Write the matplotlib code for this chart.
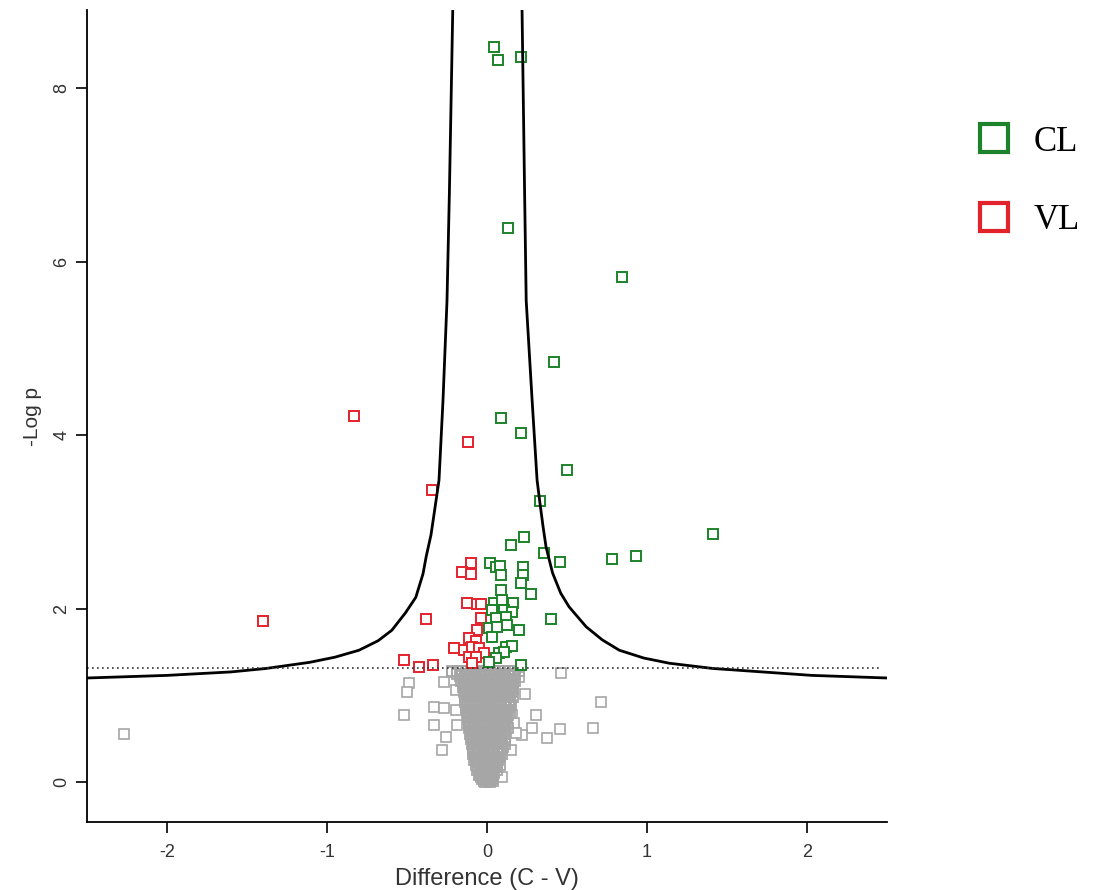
import matplotlib
matplotlib.use("Agg")
import matplotlib.pyplot as plt
from matplotlib.lines import Line2D

# --- significant CL (green) ---
cl_x = [0.044, 0.069, 0.213, 0.131, 0.845, 0.42, 0.088, 0.213, 0.50, 0.332,
        0.232, 0.150, 0.357, 0.457, 0.783, 0.933, 1.415, 0.019, 0.056, 0.081,
        0.225, 0.225, 0.088, 0.213, 0.276, 0.088, 0.044, 0.094, 0.163, 0.031,
        0.106, 0.157, 0.056, 0.119, 0.40, 0.013, 0.063, 0.125, 0.20, 0.031,
        0.119, 0.157, 0.075, 0.106, 0.056, 0.213, 0.013]
cl_y = [8.47, 8.32, 8.36, 6.39, 5.82, 4.84, 4.20, 4.02, 3.60, 3.24,
        2.82, 2.73, 2.64, 2.54, 2.57, 2.61, 2.86, 2.52, 2.48, 2.49,
        2.48, 2.39, 2.39, 2.29, 2.17, 2.21, 2.07, 2.10, 2.06, 1.98,
        1.98, 1.96, 1.89, 1.90, 1.88, 1.78, 1.79, 1.81, 1.75, 1.67,
        1.56, 1.57, 1.49, 1.50, 1.43, 1.35, 1.38]

# --- significant VL (red) ---
vl_x = [-0.833, -0.119, -0.344, -1.403, -0.382, -0.10, -0.157, -0.10, -0.125, -0.063,
        -0.038, -0.038, -0.063, -0.113, -0.069, -0.207, -0.144, -0.094, -0.05, -0.019,
        -0.113, -0.069, -0.094, -0.52, -0.426, -0.338]
vl_y = [4.22, 3.92, 3.37, 1.86, 1.88, 2.52, 2.42, 2.40, 2.07, 2.05,
        2.05, 1.89, 1.75, 1.66, 1.63, 1.54, 1.52, 1.56, 1.54, 1.49,
        1.44, 1.44, 1.37, 1.41, 1.33, 1.35]

# --- non significant (gray): dense core, read row by row ---
core_row_y = [1.28, 1.25, 1.22, 1.19, 1.16, 1.13, 1.10, 1.07, 1.04, 1.01, 0.98, 0.95,
              0.92, 0.89, 0.86, 0.83, 0.80, 0.77, 0.74, 0.71, 0.68, 0.65, 0.62, 0.59,
              0.56, 0.53, 0.50, 0.47, 0.44, 0.41, 0.38, 0.35, 0.32, 0.29, 0.26, 0.23,
              0.20, 0.17, 0.14, 0.11, 0.08, 0.055, 0.03, 0.015, 0.00]
core_row_x = [
    [-0.22, -0.19, -0.16, -0.13, -0.10, -0.07, -0.04, -0.01, 0.02, 0.05, 0.08, 0.11, 0.14, 0.17, 0.20],
    [-0.185, -0.155, -0.125, -0.095, -0.065, -0.035, -0.005, 0.025, 0.055, 0.085, 0.115, 0.145, 0.175],
    [-0.17, -0.14, -0.11, -0.08, -0.05, -0.02, 0.01, 0.04, 0.07, 0.10, 0.13, 0.16],
    [-0.145, -0.115, -0.085, -0.055, -0.025, 0.005, 0.035, 0.065, 0.095, 0.125, 0.155],
    [-0.16, -0.125, -0.095, -0.065, -0.035, -0.005, 0.025, 0.055, 0.085, 0.115, 0.145, 0.175],
    [-0.14, -0.11, -0.08, -0.05, -0.02, 0.01, 0.04, 0.07, 0.10, 0.13, 0.16],
    [-0.15, -0.12, -0.09, -0.06, -0.03, 0.00, 0.03, 0.06, 0.09, 0.12, 0.15],
    [-0.135, -0.105, -0.075, -0.045, -0.015, 0.015, 0.045, 0.075, 0.105, 0.135, 0.165],
    [-0.145, -0.115, -0.085, -0.055, -0.025, 0.005, 0.035, 0.065, 0.095, 0.125, 0.155],
    [-0.13, -0.10, -0.07, -0.04, -0.01, 0.02, 0.05, 0.08, 0.11, 0.14],
    [-0.14, -0.11, -0.08, -0.05, -0.02, 0.01, 0.04, 0.07, 0.10, 0.13, 0.16],
    [-0.125, -0.095, -0.065, -0.035, -0.005, 0.025, 0.055, 0.085, 0.115, 0.145],
    [-0.135, -0.105, -0.075, -0.045, -0.015, 0.015, 0.045, 0.075, 0.105, 0.135],
    [-0.12, -0.09, -0.06, -0.03, 0.00, 0.03, 0.06, 0.09, 0.12, 0.15],
    [-0.13, -0.10, -0.07, -0.04, -0.01, 0.02, 0.05, 0.08, 0.11, 0.14],
    [-0.115, -0.085, -0.055, -0.025, 0.005, 0.035, 0.065, 0.095, 0.125],
    [-0.125, -0.095, -0.065, -0.035, -0.005, 0.025, 0.055, 0.085, 0.115, 0.145],
    [-0.11, -0.08, -0.05, -0.02, 0.01, 0.04, 0.07, 0.10, 0.13],
    [-0.12, -0.09, -0.06, -0.03, 0.00, 0.03, 0.06, 0.09, 0.12],
    [-0.105, -0.075, -0.045, -0.015, 0.015, 0.045, 0.075, 0.105],
    [-0.115, -0.085, -0.055, -0.025, 0.005, 0.035, 0.065, 0.095, 0.125],
    [-0.10, -0.07, -0.04, -0.01, 0.02, 0.05, 0.08, 0.11],
    [-0.11, -0.08, -0.05, -0.02, 0.01, 0.04, 0.07, 0.10, 0.13],
    [-0.095, -0.065, -0.035, -0.005, 0.025, 0.055, 0.085, 0.115],
    [-0.105, -0.075, -0.045, -0.015, 0.015, 0.045, 0.075, 0.105],
    [-0.09, -0.06, -0.03, 0.00, 0.03, 0.06, 0.09],
    [-0.10, -0.07, -0.04, -0.01, 0.02, 0.05, 0.08, 0.11],
    [-0.085, -0.055, -0.025, 0.005, 0.035, 0.065, 0.095],
    [-0.095, -0.065, -0.035, -0.005, 0.025, 0.055, 0.085, 0.115],
    [-0.08, -0.05, -0.02, 0.01, 0.04, 0.07, 0.10],
    [-0.09, -0.06, -0.03, 0.00, 0.03, 0.06, 0.09],
    [-0.075, -0.045, -0.015, 0.015, 0.045, 0.075],
    [-0.085, -0.055, -0.025, 0.005, 0.035, 0.065, 0.095],
    [-0.07, -0.04, -0.01, 0.02, 0.05, 0.08],
    [-0.08, -0.05, -0.02, 0.01, 0.04, 0.07],
    [-0.065, -0.035, -0.005, 0.025, 0.055],
    [-0.07, -0.04, -0.01, 0.02, 0.05, 0.08],
    [-0.055, -0.025, 0.005, 0.035, 0.065],
    [-0.06, -0.03, 0.00, 0.03, 0.06],
    [-0.045, -0.015, 0.015, 0.045],
    [-0.05, -0.02, 0.01, 0.04],
    [-0.035, -0.005, 0.025],
    [-0.03, 0.00, 0.03],
    [-0.02, 0.01, 0.035],
    [-0.01, 0.02],
]
# scattered gray outliers
ns_x = [-2.267, -0.52, -0.332, -0.282, -0.332, -0.269, -0.194, -0.257, -0.488, -0.50,
        -0.269, -0.194, -0.188, -0.219, 0.463, 0.238, 0.714, 0.307, 0.282, 0.457,
        0.376, 0.664, 0.157, 0.169, 0.219, 0.150, 0.20, 0.182, 0.094]
ns_y = [0.553, 0.77, 0.657, 0.369, 0.865, 0.853, 0.83, 0.519, 1.141, 1.04,
        1.153, 1.06, 0.657, 1.268, 1.256, 1.014, 0.922, 0.772, 0.622, 0.611,
        0.507, 0.622, 0.772, 0.68, 0.542, 0.369, 1.21, 0.565, 0.058]

# --- significance threshold curve ---
curve_left_x = [-2.5, -2.0, -1.6, -1.38, -1.11, -0.95, -0.80, -0.68, -0.595, -0.51, -0.445,
                -0.40, -0.38, -0.35, -0.33, -0.30, -0.275, -0.25, -0.235, -0.214]
curve_left_y = [1.20, 1.23, 1.27, 1.31, 1.38, 1.44, 1.52, 1.63, 1.75, 1.95, 2.13,
                2.40, 2.60, 2.85, 3.10, 3.48, 4.4, 5.55, 6.8, 8.9]
curve_right_x = [0.219, 0.235, 0.245, 0.282, 0.313, 0.33, 0.35, 0.369, 0.41, 0.46, 0.513,
                 0.62, 0.72, 0.827, 0.98, 1.14, 1.41, 2.03, 2.5]
curve_right_y = [8.9, 6.8, 5.55, 4.4, 3.48, 3.23, 2.95, 2.71, 2.41, 2.18, 2.02,
                 1.79, 1.64, 1.52, 1.43, 1.37, 1.31, 1.23, 1.20]
p_cut = 1.32

GREEN = "#1c832a"
RED = "#e3232c"
GRAY = "#a6a6a6"

core_x, core_y = [], []
for yy, xs in zip(core_row_y, core_row_x):
    core_x += xs
    core_y += [yy] * len(xs)

plt.rcParams["font.family"] = ["Liberation Sans", "DejaVu Sans"]
plt.rcParams["axes.unicode_minus"] = False
fig = plt.figure(figsize=(11.06, 8.9), dpi=100)
ax = fig.add_axes([87 / 1106, 1 - 822 / 890, 800 / 1106, 812 / 890])

ms = 6.8
ax.plot(ns_x, ns_y, "s", ms=ms, mfc="white", mec=GRAY, mew=1.2, ls="none")
ax.plot(core_x, core_y, "s", ms=ms, mfc="none", mec=GRAY, mew=1.3, ls="none")
ax.plot(vl_x, vl_y, "s", ms=ms, mfc="white", mec=RED, mew=1.4, ls="none")
ax.plot(cl_x, cl_y, "s", ms=ms, mfc="white", mec=GREEN, mew=1.4, ls="none")

ax.plot(curve_left_x, curve_left_y, color="black", lw=2.0, solid_joinstyle="round")
ax.plot(curve_right_x, curve_right_y, color="black", lw=2.0, solid_joinstyle="round")
ax.plot([-2.5, 2.45], [p_cut, p_cut], color="#333333", lw=1.2, ls=(0, (1, 2)))

ax.set_xlim(-2.5, 2.5)
ax.set_ylim(-0.46, 8.9)
ax.set_xticks([-2, -1, 0, 1, 2])
ax.set_yticks([0, 2, 4, 6, 8])
for s in ["top", "right"]:
    ax.spines[s].set_visible(False)
for s in ["left", "bottom"]:
    ax.spines[s].set_linewidth(1.3)
ax.tick_params(direction="out", length=8, width=1.2, labelsize=13, labelcolor="#333333", pad=8)
ax.tick_params(axis="y", pad=4)
for lab in ax.get_yticklabels():
    lab.set_rotation(90)
    lab.set_va("center")
ax.set_xlabel("Difference (C - V)", fontsize=17, color="#333333", labelpad=5)
ax.set_ylabel("-Log p", fontsize=15, color="#333333", labelpad=8)

handles = [Line2D([], [], marker="s", ls="none", ms=20, mfc="white", mec=GREEN, mew=3),
           Line2D([], [], marker="s", ls="none", ms=20, mfc="white", mec=RED, mew=3)]
fig.legend(handles, ["CL", "VL"], loc="upper left", bbox_to_anchor=(0.839, 0.894),
           frameon=False, prop={"family": "Liberation Serif", "size": 25},
           labelspacing=1.3, handletextpad=0.15)

fig.savefig("out.png", dpi=100)
